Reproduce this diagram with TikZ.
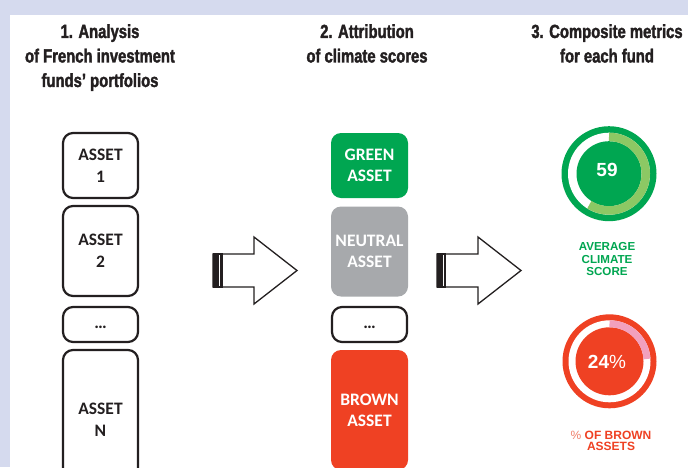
\documentclass[tikz,border=0pt]{standalone}
\usepackage{fontspec}
\setmainfont{Liberation Sans}
\newfontfamily\titlefont[FakeStretch=0.78,FakeBold=1.8]{Liberation Sans Bold}
\newfontfamily\boxfont{Carlito}
\definecolor{lav}{HTML}{D5DAEE}
\definecolor{ink}{HTML}{231F20}
\definecolor{cgreen}{HTML}{00A651}
\definecolor{clight}{HTML}{8CC864}
\definecolor{cgray}{HTML}{A7A9AC}
\definecolor{cred}{HTML}{EF4123}
\definecolor{cpink}{HTML}{F2A0BE}
\definecolor{cpct}{HTML}{F07F6A}
\tikzset{
  coltitle/.style={font=\titlefont\fontsize{19}{24.5}\selectfont, text=ink, align=center, anchor=north, inner sep=0pt},
  assetbox/.style={draw=ink, line width=2.2pt, rounded corners=10pt, minimum width=75pt, fill=white,
    font=\boxfont\bfseries\fontsize{17.5}{22}\selectfont, align=center, text=ink, inner sep=0pt},
  scorebox/.style={rounded corners=10pt, minimum width=77pt, font=\boxfont\bfseries\fontsize{17.5}{21}\selectfont,
    align=center, text=white, inner sep=0pt},
  blockarrow/.style={draw=ink, line width=1.3pt, fill=white, line join=miter},
  gaugenum/.style={font=\bfseries\fontsize{19}{20}\selectfont, text=white, inner sep=0pt},
  gaugelabel/.style={font=\bfseries\fontsize{11.6}{12.5}\selectfont, align=center, inner sep=0pt}
}
\begin{document}
\begin{tikzpicture}[x=1pt,y=-1pt]
\useasboundingbox (0,0) rectangle (688,467);
\fill[lav] (0,0) rectangle (688,467);
\fill[white] (10,15) rectangle (688,467);
\clip (0,0) rectangle (688,467);

% titles
\node[coltitle] (t1) at (100,24) {1. Analysis\\of French investment\\funds’ portfolios};
\node[coltitle] (t2) at (367,24) {2. Attribution\\of climate scores};
\node[coltitle] (t3) at (607,24) {3. Composite metrics\\for each fund};

% column 1
\node[assetbox, minimum height=65pt] (a1) at (100.5,165.5) {ASSET\\1};
\node[assetbox, minimum height=90pt] (a2) at (100.5,251) {ASSET\\2};
\node[assetbox, minimum height=35pt, text height=12pt, text depth=4pt] (a3) at (100.5,324.5) {…};
\node[assetbox, minimum height=140pt] (a4) at (100.5,420) {ASSET\\N};

% column 2
\node[scorebox, fill=cgreen, minimum height=65pt] (b1) at (369.5,165.5) {GREEN\\ASSET};
\node[scorebox, fill=cgray, minimum height=90pt] (b2) at (369.5,251.5) {NEUTRAL\\ASSET};
\node[assetbox, minimum height=35pt, text height=12pt, text depth=4pt] (b3) at (369.5,324.5) {…};
\node[scorebox, fill=cred, minimum height=120pt] (b4) at (369.5,410) {BROWN\\ASSET};

% arrows
\draw[blockarrow] (213,254) -- (254,254) -- (254,237) -- (297,270.5) -- (254,304) -- (254,287) -- (213,287) -- cycle;
\fill[ink] (212.5,253.4) rectangle (223,287.6);
\draw[white, line width=1pt] (219.8,255) -- (219.8,286);
\draw[blockarrow] (437,254) -- (478,254) -- (478,237) -- (521,270.5) -- (478,304) -- (478,287) -- (437,287) -- cycle;
\fill[ink] (436.5,253.4) rectangle (446,287.6);
\draw[white, line width=1pt] (443.2,255) -- (443.2,286);

% green gauge
\coordinate (g) at (609,173.7);
\fill[cgreen] (g) circle[radius=47.5pt];
\fill[white] (g) circle[radius=41pt];
\fill[cgreen] (g) circle[radius=32.5pt];
\draw[clight, line width=8.5pt] (g) ++(90:36.75pt) arc[start angle=90, end angle=-122.4, radius=36.75pt];
\node[gaugenum] (gn) at (607,170) {59};
\node[gaugelabel, text=cgreen] (gl) at (607,259) {AVERAGE\\CLIMATE\\SCORE};

% red gauge
\coordinate (r) at (609.5,361.3);
\fill[cred] (r) circle[radius=47pt];
\fill[white] (r) circle[radius=41pt];
\fill[cred] (r) circle[radius=34pt];
\draw[cpink, line width=7pt] (r) ++(90:37.5pt) arc[start angle=90, end angle=3.6, radius=37.5pt];
\node[gaugenum] (rn) at (607,361.5) {24\mdseries\%};
\node[gaugelabel, text=cred, font=\bfseries\fontsize{12}{11.5}\selectfont] (rl) at (611,441) {{\color{cpct}\mdseries\%} OF BROWN\\ASSETS};
\end{tikzpicture}
\end{document}
